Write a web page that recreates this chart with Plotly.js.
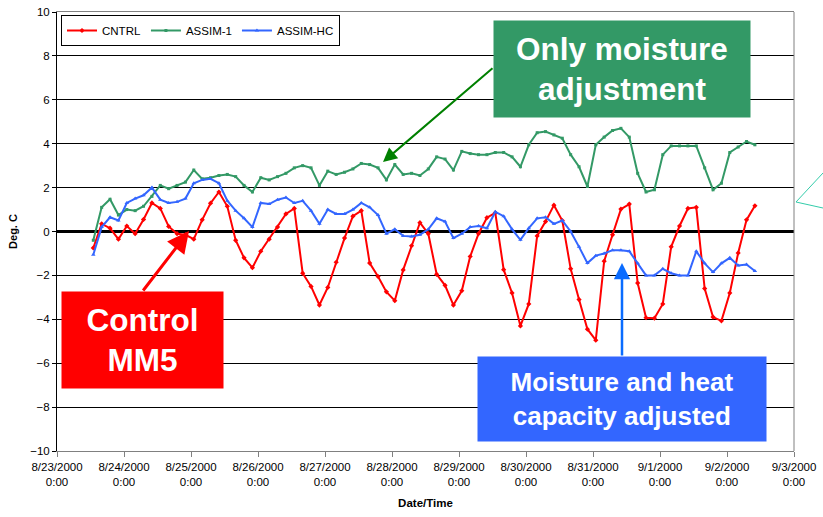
<!DOCTYPE html>
<html><head><meta charset="utf-8">
<script src="https://cdn.plot.ly/plotly-3.0.1.min.js"></script>
<style>html,body{margin:0;padding:0;background:#fff}#chart{width:823px;height:517px}</style>
</head><body><div id="chart"></div>
<script>
// ---- data (3-hourly samples starting 8/23/2000 13:00) ----
const START_UTC_MS = Date.UTC(2000, 7, 23, 13);
const STEP_HOURS = 3;
const seriesNames = ['CNTRL', 'ASSIM-1', 'ASSIM-HC'];
const cntrl = [
  -0.75, 0.35, 0.15, -0.35, 0.25, -0.1, 0.55, 1.3, 1.05, 0.23,
  -0.1, -0.15, -0.35, 0.53, 1.29, 1.8, 1.15, -0.4, -1.2, -1.65,
  -0.9, -0.35, 0.2, 0.8, 1.05, -1.9, -2.5, -3.35, -2.55, -1.4,
  -0.3, 0.7, 0.95, -1.44, -2.05, -2.75, -3.15, -1.75, -0.65, 0.4,
  -0.1, -1.95, -2.45, -3.35, -2.7, -1.14, -0.1, 0.63, 0.85, -1.74,
  -2.8, -4.3, -3.3, -0.2, 0.45, 1.2, 0.5, -1.7, -3.1, -4.45,
  -4.95, -1.35, -0.15, 1.02, 1.25, -2.35, -3.93, -3.95, -3.3, -0.7,
  0.25, 1.05, 1.1, -2.6, -3.9, -4.07, -2.8, -0.98, 0.53, 1.17
];
const assim1 = [
  -0.4, 1.1, 1.47, 0.75, 1.0, 0.95, 1.15, 1.6, 2.1, 1.95,
  2.1, 2.25, 2.8, 2.4, 2.45, 2.55, 2.6, 2.5, 2.1, 1.8,
  2.45, 2.35, 2.5, 2.65, 2.9, 3.0, 2.9, 2.1, 2.75, 2.6,
  2.7, 2.85, 3.1, 3.05, 2.9, 2.35, 3.05, 2.6, 2.65, 2.55,
  2.85, 3.4, 3.3, 2.8, 3.65, 3.55, 3.5, 3.5, 3.6, 3.6,
  3.4, 2.95, 3.95, 4.5, 4.55, 4.4, 4.25, 3.5, 2.95, 2.05,
  3.95, 4.3, 4.6, 4.7, 4.3, 2.65, 1.8, 1.9, 3.5, 3.9,
  3.9, 3.9, 3.9, 2.9, 1.9, 2.2, 3.6, 3.85, 4.1, 3.95
];
const assimHC = [
  -1.06, 0.2, 0.65, 0.5, 1.3, 1.5, 1.65, 2.0, 1.45, 1.3,
  1.35, 1.5, 2.2, 2.35, 2.4, 2.2, 1.4, 0.95, 0.6, 0.2,
  1.3, 1.25, 1.45, 1.55, 1.3, 1.4, 0.95, 0.35, 1.0, 0.8,
  0.8, 1.0, 1.3, 1.1, 0.75, -0.1, 0.1, -0.2, -0.23, -0.15,
  0.1, 0.6, 0.45, -0.3, -0.1, 0.2, 0.25, 0.15, 0.9, 0.7,
  0.1, -0.38, 0.15, 0.6, 0.65, 0.35, 0.5, 0.0, -0.7, -1.44,
  -1.1, -1.0, -0.85, -0.85, -0.9, -1.45, -2.0, -2.0, -1.7, -1.9,
  -2.0, -2.0, -0.9, -1.45, -1.85, -1.45, -1.2, -1.55, -1.5, -1.8
];
const tickDates = ['2000-08-23','2000-08-24','2000-08-25','2000-08-26','2000-08-27','2000-08-28',
  '2000-08-29','2000-08-30','2000-08-31','2000-09-01','2000-09-02','2000-09-03'];
const tickLabels = ['8/23/2000<br>0:00','8/24/2000<br>0:00','8/25/2000<br>0:00','8/26/2000<br>0:00',
  '8/27/2000<br>0:00','8/28/2000<br>0:00','8/29/2000<br>0:00','8/30/2000<br>0:00','8/31/2000<br>0:00',
  '9/1/2000<br>0:00','9/2/2000<br>0:00','9/3/2000<br>0:00'];
const yTicks = [-10, -8, -6, -4, -2, 0, 2, 4, 6, 8, 10];

// ---- build ----
function sampleTimes(n) {
  const out = [];
  for (let i = 0; i < n; i++) {
    const d = new Date(START_UTC_MS + i * STEP_HOURS * 3600000);
    out.push(d.toISOString().slice(0, 19).replace('T', ' '));
  }
  return out;
}
const t = sampleTimes(cntrl.length);
const FONT = 'Arial, "Liberation Sans", sans-serif';
const W = 823, H = 517, ML = 57, MR = 29, MT = 12, MB = 66;
const PW = W - ML - MR, PH = H - MT - MB;
const px = x => (x - ML) / PW;
const py = y => (H - MB - y) / PH;

const traces = [
  {x: t, y: cntrl, name: seriesNames[0], type: 'scatter', mode: 'lines+markers',
   line: {color: '#FF0000', width: 2}, marker: {symbol: 'diamond', size: 4, color: '#FF0000'}},
  {x: t, y: assim1, name: seriesNames[1], type: 'scatter', mode: 'lines+markers',
   line: {color: '#339966', width: 2}, marker: {symbol: 'square', size: 3, color: '#339966'}},
  {x: t, y: assimHC, name: seriesNames[2], type: 'scatter', mode: 'lines+markers',
   line: {color: '#3366FF', width: 2}, marker: {symbol: 'triangle-up', size: 4, color: '#3366FF'}}
];

function box(x0, y0, x1, y1, text, bg, size) {
  return {xref: 'paper', yref: 'paper', x: px((x0 + x1) / 2), y: py((y0 + y1) / 2),
    xanchor: 'center', yanchor: 'middle', showarrow: false, text: '<b>' + text + '</b>',
    width: x1 - x0, height: y1 - y0, bgcolor: bg, borderpad: 0, align: 'center', valign: 'middle',
    font: {family: FONT, size: size, color: '#FFFFFF'}};
}
function arrow(tipX, tipY, tailX, tailY, color, width, size) {
  return {xref: 'paper', yref: 'paper', x: px(tipX), y: py(tipY), ax: tailX - tipX, ay: tailY - tipY,
    axref: 'pixel', ayref: 'pixel', text: '', showarrow: true, arrowhead: 2, arrowsize: size,
    arrowwidth: width, arrowcolor: color, standoff: 0, startstandoff: 0};
}

const layout = {
  width: W, height: H, margin: {l: ML, r: MR, t: MT, b: MB},
  paper_bgcolor: '#FFFFFF', plot_bgcolor: '#FFFFFF',
  font: {family: FONT, size: 11, color: '#000000'},
  showlegend: true,
  legend: {orientation: 'h', x: px(61), y: py(15), xanchor: 'left', yanchor: 'top',
    bordercolor: '#000000', borderwidth: 1, bgcolor: '#FFFFFF', font: {family: FONT, size: 11.5},
    itemwidth: 30},
  xaxis: {type: 'date', range: [tickDates[0], tickDates[tickDates.length - 1]],
    tickmode: 'array', tickvals: tickDates, ticktext: tickLabels,
    ticks: 'outside', ticklen: 5, tickcolor: '#808080', showline: true, linecolor: '#808080',
    mirror: true, showgrid: false, zeroline: false, tickfont: {family: FONT, size: 11.5},
    title: {text: '<b>Date/Time</b>', font: {family: FONT, size: 11.5}, standoff: 12}},
  yaxis: {range: [-10, 10], tickmode: 'array', tickvals: yTicks, ticks: 'outside', ticklen: 4,
    tickcolor: '#000000', showline: true, linecolor: '#000000', showgrid: true, gridcolor: '#000000',
    gridwidth: 1, zeroline: true, zerolinecolor: '#000000', zerolinewidth: 3,
    tickfont: {family: FONT, size: 11.5},
    title: {text: '<b>Deg. C</b>', font: {family: FONT, size: 11}, standoff: 10}},
  shapes: [
    {type: 'line', xref: 'paper', yref: 'paper', x0: 1, x1: 1, y0: 0, y1: 1,
     line: {color: '#808080', width: 1}},
    {type: 'path', xref: 'paper', yref: 'paper',
     path: 'M ' + px(823) + ' ' + py(173) + ' L ' + px(796) + ' ' + py(202) + ' L ' + px(823) + ' ' + py(208),
     line: {color: '#33CCAA', width: 1}}
  ],
  annotations: [
    arrow(383, 162, 494, 67, '#008000', 2, 1.4),
    arrow(189, 231, 142, 292, '#FF0000', 3, 1.45),
    arrow(622, 263, 622, 357, '#0A6CFF', 2.5, 1.3),
    box(494, 21, 750, 117, 'Only moisture<br>adjustment', '#339966', 31.5),
    box(62, 292, 223, 388, 'Control<br>MM5', '#FF0000', 31.5),
    box(478, 357, 766, 441, 'Moisture and heat<br>capacity adjusted', '#3366FF', 26)
  ]
};

Plotly.newPlot('chart', traces, layout, {displayModeBar: false, staticPlot: true});
</script>
</body></html>
